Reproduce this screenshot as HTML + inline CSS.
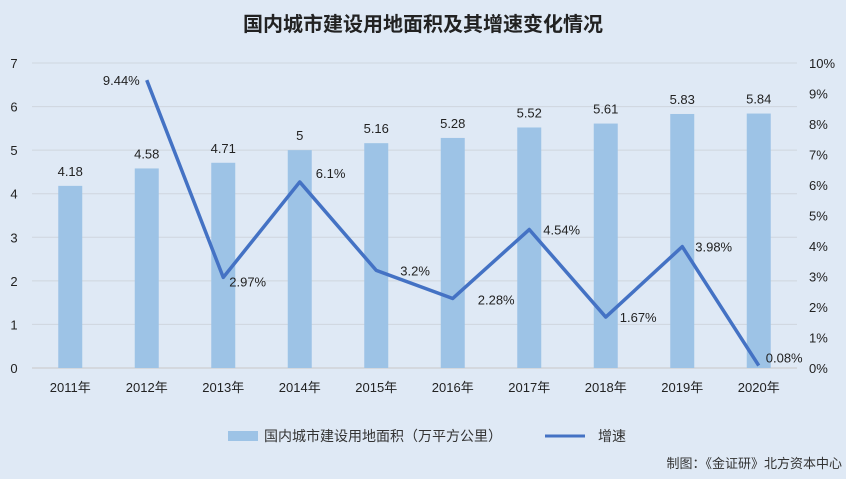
<!DOCTYPE html>
<html><head><meta charset="utf-8"><style>
body{margin:0;background:#dfe9f5;}
svg{display:block;font-family:"Liberation Sans","Noto Sans CJK SC",sans-serif;}
</style></head><body>
<svg id="c" width="846" height="479" viewBox="0 0 846 479">
<rect width="846" height="479" fill="#dfe9f5"/>
<text x="423" y="31" text-anchor="middle" font-size="20" font-weight="bold" fill="#222">国内城市建设用地面积及其增速变化情况</text>
<g id="grid"></g><g id="bars"></g><g id="line"></g><g id="labels"></g>
<g>
<rect x="228" y="431" width="30" height="10" fill="#9dc3e6"/>
<text x="264" y="441" font-size="14" fill="#333">国内城市建设用地面积（万平方公里）</text>
<line x1="545" y1="436" x2="585" y2="436" stroke="#4472c4" stroke-width="3"/>
<text x="598" y="441" font-size="14" fill="#333">增速</text>
</g>
<text x="842" y="468" text-anchor="end" font-size="13" fill="#333">制图：《金证研》北方资本中心</text>
</svg>
<script>
const categories=["2011年","2012年","2013年","2014年","2015年","2016年","2017年","2018年","2019年","2020年"];
const areaValues=[4.18,4.58,4.71,5,5.16,5.28,5.52,5.61,5.83,5.84];
const growthValues=[null,9.44,2.97,6.1,3.2,2.28,4.54,1.67,3.98,0.08];
const leftTicks=[0,1,2,3,4,5,6,7];
const rightTicks=[0,1,2,3,4,5,6,7,8,9,10];
const NS="http://www.w3.org/2000/svg";
const x0=32,x1=797,yb=368,yt=63;
const step=(x1-x0)/categories.length;
const xc=i=>x0+step*(i+0.5);
const yL=v=>yb-(v/7)*(yb-yt);
const yR=v=>yb-(v/10)*(yb-yt);
function mk(tag,attrs,parent){const e=document.createElementNS(NS,tag);for(const k in attrs)e.setAttribute(k,attrs[k]);document.getElementById(parent).appendChild(e);return e;}
leftTicks.forEach(t=>{
 const g=mk('line',{x1:x0,x2:x1,y1:yL(t),y2:yL(t),stroke:t===0?'#c8c8c8':'#cfd6de','stroke-width':1},'grid');
 
 
 const l=mk('text',{x:14,y:yL(t)+5,'text-anchor':'middle','font-size':13,fill:'#222'},'grid');l.textContent=t;
 
 
});
rightTicks.forEach(t=>{
 const l=mk('text',{x:809,y:yR(t)+5,'font-size':13,fill:'#222'},'grid');l.textContent=t+'%';
 
 
});
categories.forEach((c,i)=>{
 const l=mk('text',{x:xc(i),y:392,'text-anchor':'middle','font-size':13,fill:'#222'},'grid');l.textContent=c;
 
 
 const b=mk('rect',{x:xc(i)-12,y:yL(areaValues[i]),width:24,height:yb-yL(areaValues[i]),fill:'#9dc3e6'},'bars');
 
 
 const v=mk('text',{x:xc(i),y:yL(areaValues[i])-10,'text-anchor':'middle','font-size':13,fill:'#222'},'labels');v.textContent=areaValues[i];
 
 
});
const pts=[];growthValues.forEach((v,i)=>{if(v!==null)pts.push([xc(i),yR(v),v,i]);});
const p=mk('polyline',{points:pts.map(q=>q[0]+','+q[1]).join(' '),fill:'none',stroke:'#4472c4','stroke-width':3.5,'stroke-linejoin':'round'},'line');


const offs={1:[-7,5,'end'],2:[6,9,'start'],3:[16,-4,'start'],4:[24,5,'start'],5:[25,6,'start'],6:[14,5,'start'],7:[14,5,'start'],8:[13,5,'start'],9:[7,-3,'start']};
pts.forEach(q=>{const o=offs[q[3]]||[6,5,'start'];
 const t=mk('text',{x:q[0]+o[0],y:q[1]+o[1],'text-anchor':o[2],'font-size':13,fill:'#222'},'labels');t.textContent=q[2]+'%';
 
 
});
</script>
</body></html>
